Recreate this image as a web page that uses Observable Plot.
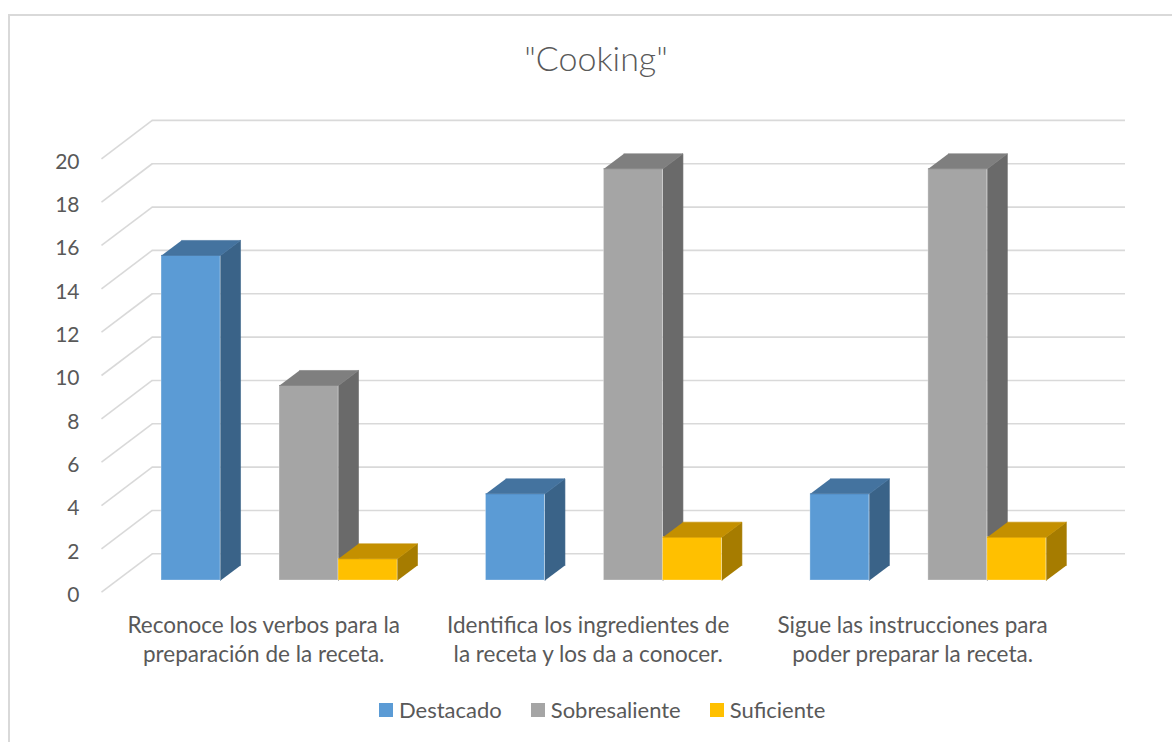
<!DOCTYPE html>
<html>
<head>
<meta charset="utf-8">
<script src="https://cdn.jsdelivr.net/npm/d3@7"></script>
<script src="https://cdn.jsdelivr.net/npm/@observablehq/plot@0.6"></script>
<style>
  html, body { margin: 0; padding: 0; background: #fff; }
  #wrap { position: relative; width: 1172px; height: 742px; overflow: hidden; font-family: Lato, "Open Sans", sans-serif; color: #595959; }
  #border { position: absolute; left: 8px; top: 14px; width: 1200px; height: 800px; border: 2px solid #d9d9d9; box-sizing: border-box; }
  #title { position: absolute; left: 0; top: 35px; width: 1192px; text-align: center; font-size: 34px; font-weight: 300; line-height: 46px; color: #595959; }
  #chart { position: absolute; left: 0; top: 0; }
  #legend { position: absolute; left: 379px; top: 696px; display: flex; align-items: center; font-size: 22px; line-height: 28px; }
  .item { display: flex; align-items: center; margin-right: 29px; }
  .sw { width: 14px; height: 14px; margin-right: 6px; }
</style>
</head>
<body>
<div id="wrap">
  <div id="border"></div>
  <div id="title">"Cooking"</div>
  <div id="chart"></div>
  <div id="legend"></div>
</div>
<script>
// ---- data ----
const categories = [
  "Reconoce los verbos para la\npreparación de la receta.",
  "Identifica los ingredientes de\nla receta y los da a conocer.",
  "Sigue las instrucciones para\npoder preparar la receta."
];
const seriesNames = ["Destacado", "Sobresaliente", "Suficiente"];
const destacado = [15, 4, 4];
const sobresaliente = [9, 19, 19];
const suficiente = [1, 2, 2];
const yTicks = [0, 2, 4, 6, 8, 10, 12, 14, 16, 18, 20];

// ---- styles / layout ----
const palette = {
  Destacado:     {front: "#5B9BD5", top: "#44739F", side: "#3A6388"},
  Sobresaliente: {front: "#A5A5A5", top: "#7F7F7F", side: "#6A6A6A"},
  Suficiente:    {front: "#FFC000", top: "#C49000", side: "#A67C00"}
};
const slotOf = {Destacado: 0, Sobresaliente: 2, Suficiente: 3}; // 4 slots, slot 1 empty
const nSlots = 4, gapWidth = 1.5;

const W = 1172, H = 742;
const mL = 101, mR = 97.7, mT = 158.3, mB = 150.3;
const kx = (W - mL - mR) / categories.length; // px per category
const ky = (H - mT - mB) / 20;                // px per unit
const wall = {x: 50.7, y: 38.4};              // back wall offset (px)
const barPlane = {x: 15.8, y: -11.7};         // bar front plane offset (px)
const depth = {x: 20, y: 15};                 // bar depth (px)

const wallX = wall.x / kx, wallY = wall.y / ky;
const dX = depth.x / kx, dY = depth.y / ky;
const slotW = 1 / (nSlots + gapWidth);

const valuesBySeries = {Destacado: destacado, Sobresaliente: sobresaliente, Suficiente: suficiente};

const barMarks = [];
for (const s of seriesNames) {
  const vals = valuesBySeries[s];
  const bars = vals.map((v, i) => {
    const x1 = i + (gapWidth / 2 + slotOf[s]) * slotW;
    return {i, v, x1, x2: x1 + slotW};
  });
  const topPts = bars.flatMap(b => [
    {id: b.i, x: b.x1, y: b.v},
    {id: b.i, x: b.x2, y: b.v},
    {id: b.i, x: b.x2 + dX, y: b.v + dY},
    {id: b.i, x: b.x1 + dX, y: b.v + dY}
  ]);
  const sidePts = bars.flatMap(b => [
    {id: b.i, x: b.x2, y: 0},
    {id: b.i, x: b.x2, y: b.v},
    {id: b.i, x: b.x2 + dX, y: b.v + dY},
    {id: b.i, x: b.x2 + dX, y: dY}
  ]);
  const c = palette[s];
  barMarks.push(
    Plot.line(sidePts, {x: "x", y: "y", z: "id", fill: c.side, stroke: c.side, strokeWidth: 0.6, dx: barPlane.x, dy: barPlane.y}),
    Plot.rect(bars, {x1: "x1", x2: "x2", y1: 0, y2: "v", fill: c.front, stroke: "#ffffff", strokeOpacity: 0.3, strokeWidth: 1, dx: barPlane.x, dy: barPlane.y}),
    Plot.line(topPts, {x: "x", y: "y", z: "id", fill: c.top, stroke: c.top, strokeWidth: 0.6, dx: barPlane.x, dy: barPlane.y})
  );
}

const chart = Plot.plot({
  width: W,
  height: H,
  marginLeft: mL,
  marginRight: mR,
  marginTop: mT,
  marginBottom: mB,
  x: {domain: [0, categories.length], axis: null},
  y: {domain: [0, 20], axis: null},
  style: {fontFamily: "Lato, 'Open Sans', sans-serif", color: "#595959", background: "transparent", overflow: "visible"},
  marks: [
    Plot.ruleY(yTicks, {y: d => d + wallY, x1: wallX, x2: categories.length + wallX, stroke: "#d9d9d9", strokeWidth: 1.6}),
    Plot.link(yTicks, {x1: 0, y1: d => d, x2: wallX, y2: d => d + wallY, stroke: "#d9d9d9", strokeWidth: 1.6}),
    ...barMarks,
    Plot.text(yTicks, {x: 0, y: d => d, text: d => String(d), dx: -22, dy: 3, textAnchor: "end", fontSize: 21, fill: "#595959"}),
    Plot.text(categories, {x: (d, i) => i + 0.5, y: 0, text: d => d, dy: 46, fontSize: 22.5, lineHeight: 1.3, fill: "#595959"})
  ]
});
document.getElementById("chart").appendChild(chart);

const legend = document.getElementById("legend");
for (const s of seriesNames) {
  const item = document.createElement("div");
  item.className = "item";
  const sw = document.createElement("div");
  sw.className = "sw";
  sw.style.background = palette[s].front;
  const lab = document.createElement("span");
  lab.textContent = s;
  item.appendChild(sw);
  item.appendChild(lab);
  legend.appendChild(item);
}
</script>
</body>
</html>
